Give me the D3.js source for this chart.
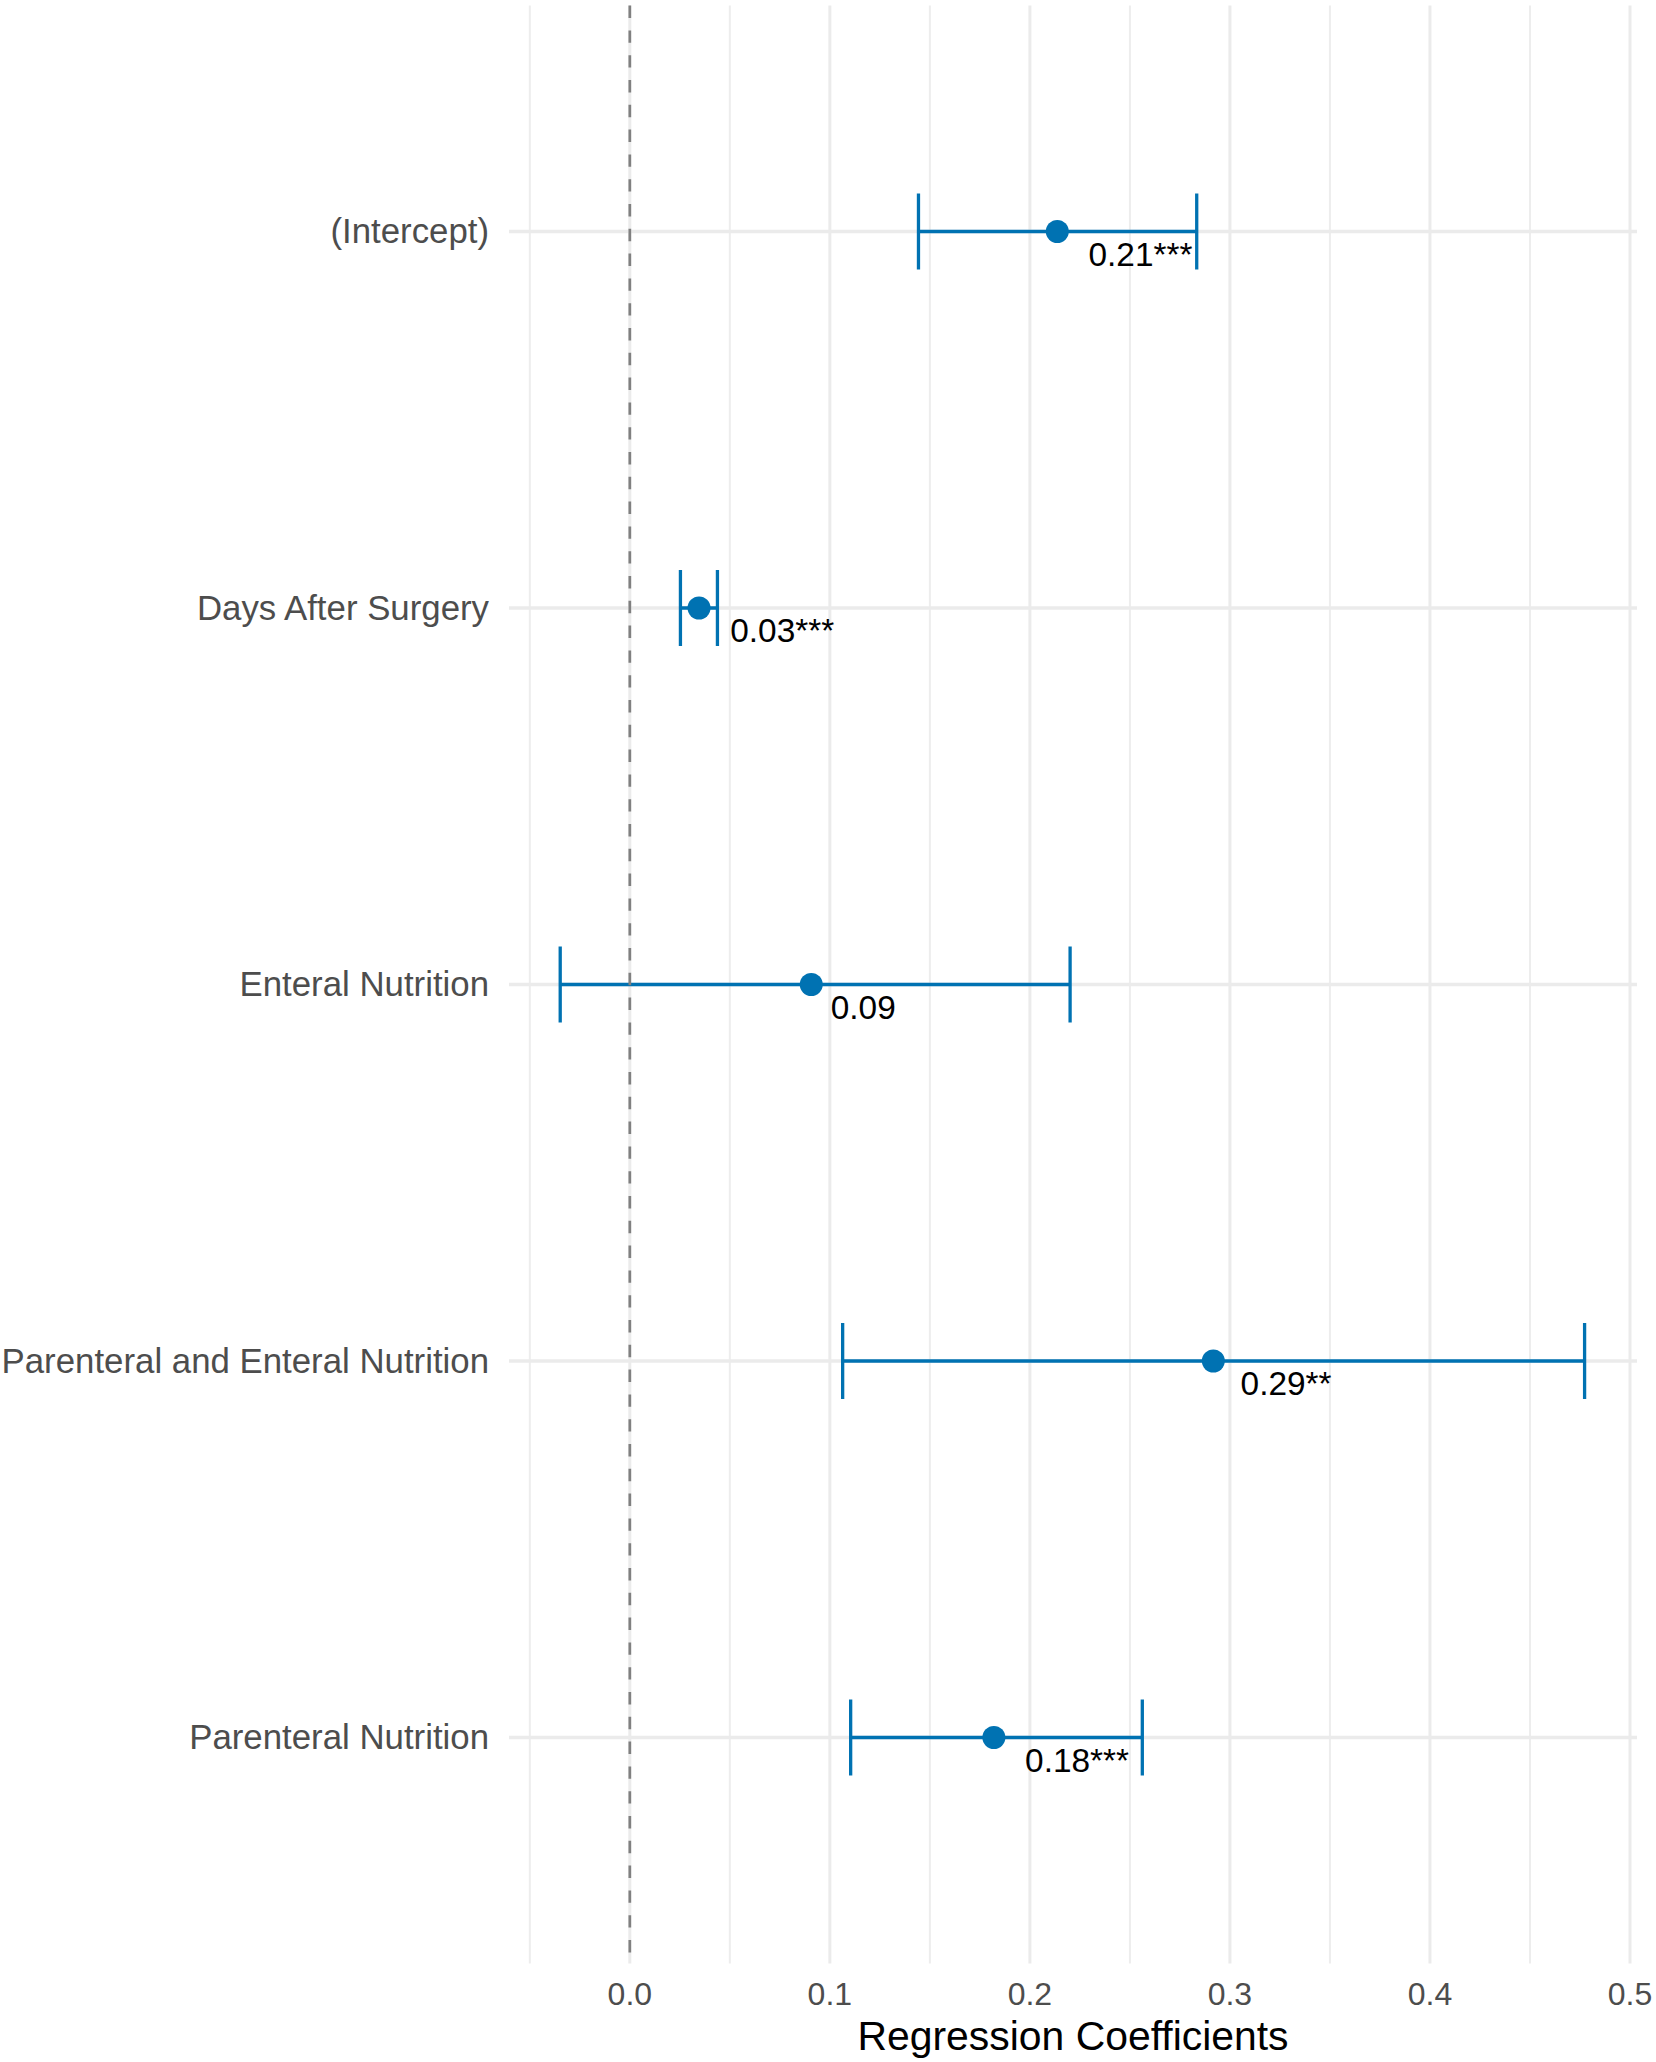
<!DOCTYPE html>
<html>
<head>
<meta charset="utf-8">
<script src="https://cdn.jsdelivr.net/npm/d3@7"></script>
<style>
  html, body { margin: 0; padding: 0; background: #ffffff; }
  text { font-family: "Liberation Sans", Arial, sans-serif; }
</style>
</head>
<body>
<svg id="chart" width="1656" height="2062"></svg>
<script>
// coefficient table
var terms = ["(Intercept)", "Days After Surgery", "Enteral Nutrition",
             "Parenteral and Enteral Nutrition", "Parenteral Nutrition"];
var estimates = [0.2137, 0.0346, 0.0907, 0.2917, 0.1820];
var lowerCI   = [0.1443, 0.0253, -0.0348, 0.1064, 0.1104];
var upperCI   = [0.2834, 0.0438, 0.2201, 0.4773, 0.2562];
var valueLabels = ["0.21***", "0.03***", "0.09", "0.29**", "0.18***"];
var xTicks = [0.0, 0.1, 0.2, 0.3, 0.4, 0.5];
var xMinorTicks = [-0.05, 0.05, 0.15, 0.25, 0.35, 0.45];

var svg = d3.select("#chart");

var panel = { left: 509, right: 1637, top: 5.6, bottom: 1963.4 };

var x = d3.scaleLinear()
  .domain([-0.0604, 0.5035])
  .range([panel.left, panel.right]);

var y = d3.scalePoint()
  .domain(terms)
  .range([panel.top, panel.bottom])
  .padding(0.6);

var blue = "#0072B2";

// grid
var grid = svg.append("g");
grid.selectAll(".minor")
  .data(xMinorTicks)
  .enter().append("line")
  .attr("x1", function (d) { return x(d); })
  .attr("x2", function (d) { return x(d); })
  .attr("y1", panel.top)
  .attr("y2", panel.bottom)
  .attr("stroke", "#ededed")
  .attr("stroke-width", 2);

grid.selectAll(".major")
  .data(xTicks)
  .enter().append("line")
  .attr("x1", function (d) { return x(d); })
  .attr("x2", function (d) { return x(d); })
  .attr("y1", panel.top)
  .attr("y2", panel.bottom)
  .attr("stroke", "#ebebeb")
  .attr("stroke-width", 3);

grid.selectAll(".hgrid")
  .data(terms)
  .enter().append("line")
  .attr("x1", panel.left)
  .attr("x2", panel.right)
  .attr("y1", function (d) { return y(d); })
  .attr("y2", function (d) { return y(d); })
  .attr("stroke", "#ebebeb")
  .attr("stroke-width", 3.4);

// error bars
var rows = terms.map(function (t, i) {
  return { term: t, est: estimates[i], lo: lowerCI[i], hi: upperCI[i], label: valueLabels[i] };
});

var bars = svg.append("g");
bars.selectAll(".span")
  .data(rows)
  .enter().append("line")
  .attr("x1", function (d) { return x(d.lo); })
  .attr("x2", function (d) { return x(d.hi); })
  .attr("y1", function (d) { return y(d.term); })
  .attr("y2", function (d) { return y(d.term); })
  .attr("stroke", blue)
  .attr("stroke-width", 3.3);

var whisker = 38;
["lo", "hi"].forEach(function (k) {
  bars.selectAll(".cap-" + k)
    .data(rows)
    .enter().append("line")
    .attr("x1", function (d) { return x(d[k]); })
    .attr("x2", function (d) { return x(d[k]); })
    .attr("y1", function (d) { return y(d.term) - whisker; })
    .attr("y2", function (d) { return y(d.term) + whisker; })
    .attr("stroke", blue)
    .attr("stroke-width", 3.3);
});

// zero reference line
svg.append("line")
  .attr("x1", x(0)).attr("x2", x(0))
  .attr("y1", panel.top).attr("y2", panel.bottom)
  .attr("stroke", "#808080")
  .attr("stroke-width", 2.7)
  .attr("stroke-dasharray", "12.4,12.4");

bars.selectAll(".pt")
  .data(rows)
  .enter().append("circle")
  .attr("cx", function (d) { return x(d.est); })
  .attr("cy", function (d) { return y(d.term); })
  .attr("r", 11.5)
  .attr("fill", blue);

// value labels, hjust = -0.3
svg.append("g").selectAll("text")
  .data(rows)
  .enter().append("text")
  .attr("y", function (d) { return y(d.term) + 34; })
  .attr("font-size", 33.4)
  .attr("fill", "#000000")
  .text(function (d) { return d.label; })
  .attr("x", function (d) { return x(d.est) + 0.3 * this.getComputedTextLength(); });

// y axis labels
svg.append("g").selectAll("text")
  .data(terms)
  .enter().append("text")
  .attr("x", 489)
  .attr("y", function (d) { return y(d) + 11.5; })
  .attr("text-anchor", "end")
  .attr("font-size", 34.8)
  .attr("fill", "#4d4d4d")
  .text(function (d) { return d; });

// x axis labels
svg.append("g").selectAll("text")
  .data(xTicks)
  .enter().append("text")
  .attr("x", function (d) { return x(d); })
  .attr("y", 2005)
  .attr("text-anchor", "middle")
  .attr("font-size", 32)
  .attr("fill", "#4d4d4d")
  .text(function (d) { return d3.format(".1f")(d); });

svg.append("text")
  .attr("x", (x(-0.0604) + x(0.5035)) / 2)
  .attr("y", 2050)
  .attr("text-anchor", "middle")
  .attr("font-size", 40.9)
  .attr("fill", "#000000")
  .text("Regression Coefficients");
</script>
</body>
</html>
